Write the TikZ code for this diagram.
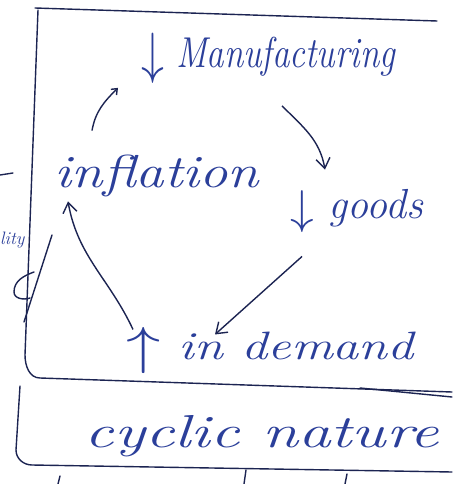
\documentclass[tikz,border=0pt]{standalone}
\usetikzlibrary{arrows.meta,calc}
\definecolor{ink}{HTML}{1C2452}
\definecolor{bink}{HTML}{2B3F9A}
\newcommand{\bigarr}[1]{\raisebox{-0.1em}{\scalebox{1.9}{$#1$}}}
\begin{document}
\begin{tikzpicture}[x=1pt,y=-1pt,
  lbl/.style={text=bink,font=\itshape,inner sep=2pt},
  rule/.style={draw=ink,line width=1.4pt,line cap=round,line join=round},
  arr/.style={draw=ink,line width=1.4pt,-{Straight Barb[length=10pt,width=14pt]}}]
\useasboundingbox (0,0) rectangle (452,484);
\fill[white] (0,0) rectangle (452,484);
% boxes
\draw[rule] (35,8) -- (437,21);
\draw[rule] (38,10) -- (25,355) to[out=-90,in=180] (40,378) -- (452,392);
\draw[rule] (360,388) -- (452,397);
\draw[rule] (20,386) -- (16,450) to[out=-90,in=180] (32,465) -- (452,472);
\draw[rule] (0,175) -- (13,173);
\draw[rule] (52,235) -- (24,322);
\draw[rule] (34,272) to[out=200,in=90] (14,292) to[out=-90,in=200] (30,298);
\draw[rule] (60,476) -- (58,484);
\draw[rule] (246,470) -- (244,484);
\draw[rule] (347,474) -- (345,484);
% labels
\node[lbl,font=\fontsize{36}{40}\selectfont\itshape,yscale=1.2,xscale=0.97] (manu) at (268,58) {\bigarr{\downarrow} Manufacturing};
\node[lbl,font=\fontsize{42}{46}\selectfont\itshape,xscale=1.35,yscale=1.1] (infl) at (157,176) {inflation};
\node[lbl,font=\fontsize{42}{46}\selectfont\itshape] (goods) at (357,211) {\bigarr{\downarrow} goods};
\node[lbl,font=\fontsize{36}{40}\selectfont\itshape,xscale=1.45,yscale=1.1] (dem) at (270,350) {\bigarr{\uparrow} in demand};
\node[lbl,font=\fontsize{42}{46}\selectfont\itshape,xscale=1.55,yscale=1.1] (cyc) at (262,436) {cyclic nature};
\node[text=bink,font=\fontsize{18}{20}\selectfont\itshape,anchor=west,inner sep=0pt] (lity) at (0,240) {lity};
% cycle arrows
\draw[arr] ($(manu.south)+(14,20)$) to[out=-45,in=100] ($(goods.north)+(-32,-18)$);
\draw[arr] ($(goods.south)+(-55,22)$) -- ($(dem.north)+(-55,10)$);
\draw[arr] ($(dem.north)+(-137,5)$) to[out=115,in=-80] ($(infl.south)+(-89,2)$);
\draw[arr,-{Straight Barb[length=5pt,width=8pt]}] ($(infl.north)+(-65,-22)$) to[out=80,in=-135] ($(manu.south)+(-150,2)$);
\end{tikzpicture}
\end{document}
